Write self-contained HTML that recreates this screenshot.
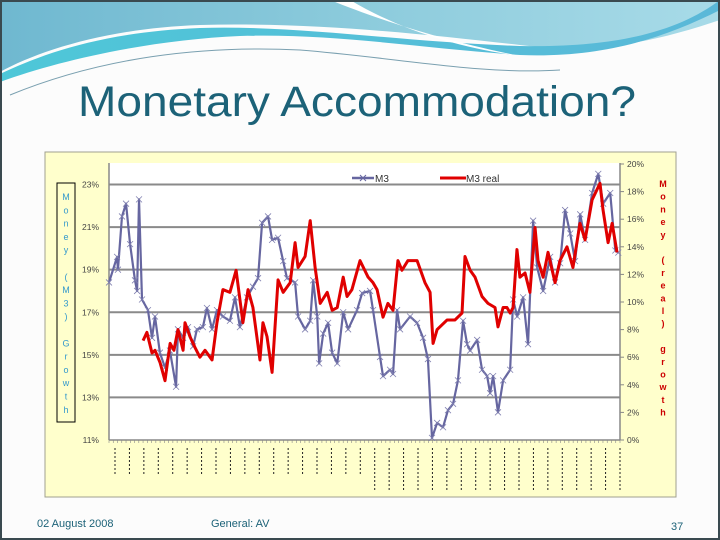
<!DOCTYPE html>
<html><head><meta charset="utf-8"><style>
html,body{margin:0;padding:0;background:#fff}
svg{display:block}
</style></head><body>
<svg id="slide" width="720" height="540" viewBox="0 0 720 540" xmlns="http://www.w3.org/2000/svg">
<defs>
<linearGradient id="hdr" x1="0" y1="0" x2="1" y2="0">
<stop offset="0" stop-color="#6fb8d0"/><stop offset="0.5" stop-color="#8ccbdc"/><stop offset="1" stop-color="#a8dbe8"/>
</linearGradient>
<linearGradient id="hdr2" x1="0" y1="0" x2="1" y2="0">
<stop offset="0" stop-color="#4ec7d8"/><stop offset="1" stop-color="#5ab8d8"/>
</linearGradient>
</defs>
<rect x="0" y="0" width="720" height="540" fill="#fcfcfc"/>
<g>
<path d="M0,0 H720 V20 C660,40 600,55 520,45 C430,35 320,22 200,25 C110,28 40,50 0,72 Z" fill="url(#hdr)"/>
<path d="M0,82 C60,60 150,40 240,36 C330,33 420,48 520,55 C600,58 660,40 720,10 V0 C680,30 620,48 520,46 C400,42 300,25 200,28 C100,32 40,55 0,74 Z" fill="url(#hdr2)"/>
<path d="M330,0 C380,20 440,40 520,56 C460,48 400,30 350,0 Z" fill="#ffffff"/>
<path d="M10,95 C100,58 200,45 300,50 C400,58 480,75 560,70" stroke="#7aa0b0" stroke-width="1" fill="none"/>
</g>
<rect x="1" y="1" width="718" height="538" fill="none" stroke="#3a4a50" stroke-width="2"/>
<text x="78" y="116" font-family="Liberation Sans, sans-serif" font-size="43" fill="#1c6278" textLength="558" lengthAdjust="spacingAndGlyphs">Monetary Accommodation?</text>

<rect x="45" y="152" width="631" height="345" fill="#ffffcc" stroke="#a0a090" stroke-width="1"/>
<rect x="109" y="163" width="511" height="277" fill="#ffffff"/>
<g id="grid"></g>
<g id="axes"></g>
<g id="xticks"></g>
<g id="series"></g>

<rect x="57" y="183" width="18" height="239" fill="none" stroke="#000" stroke-width="1"/>
<g id="ltitle" font-family="Liberation Sans, sans-serif" font-size="9" fill="#3399cc" text-anchor="middle"></g>
<g id="rtitle" font-family="Liberation Sans, sans-serif" font-size="9" font-weight="bold" fill="#cc0000" text-anchor="middle"></g>

<g font-family="Liberation Sans, sans-serif" font-size="10" fill="#333">
<g>
<line x1="352" y1="178" x2="374" y2="178" stroke="#6666a0" stroke-width="2.5"/>
<path d="M360,175 l6,6 M366,175 l-6,6" stroke="#6666a0" stroke-width="1"/>
<text x="375" y="182">M3</text></g>
<g>
<line x1="440" y1="178" x2="466" y2="178" stroke="#e00000" stroke-width="3"/>
<text x="466" y="182">M3 real</text></g>
</g>

<g font-family="Liberation Sans, sans-serif" font-size="11" fill="#1c6278">
<text x="37" y="527">02 August 2008</text>
<text x="211" y="527">General: AV</text>
<text x="671" y="530">37</text>
</g>
</svg>
<script>
const m3Periods=[0,3.8,4.2,6.1,8.0,9.9,12.2,13.2,14.1,15.5,18.3,20.2,21.6,23.9,26.3,28.6,31.5,32.4,34.8,37.1,39.5,41.3,44.1,46.0,48.4,50.7,53.5,56.8,59.2,61.5,64.8,67.6,70.0,71.9,74.7,76.6,79.4,81.8,83.6,87.4,88.8,92.1,94.5,95.9,97.8,98.7,100.6,102.9,104.8,107.2,110.0,112.3,116.5,118.9,122.6,124.0,127.3,128.7,132.0,133.4,135.3,136.7,141.4,144.7,147.5,149.8,151.7,154.1,156.9,159.2,161.6,163.9,166.3,168.2,169.6,172.9,175.2,177.6,179.0,180.4,182.7,185.1,188.4,189.8,191.7,194.5,196.8,199.2,201.1,203.9,207.2,209.5,211.9,214.2,216.6,218.9,221.3,223.6,226.9,229.8,232.1,235.4,237.8,239.2];
const m3Values=[18.4,19.6,19.0,21.5,22.1,20.2,18.5,18.0,22.3,17.6,17.1,15.8,16.8,15.1,14.4,15.2,13.5,16.2,15.8,16.3,15.4,16.2,16.3,17.2,16.2,17.1,16.8,16.6,17.7,16.3,17.7,18.2,18.6,21.2,21.5,20.4,20.5,19.4,18.6,18.4,16.8,16.2,16.6,18.5,16.8,14.6,16.0,16.5,15.1,14.6,17.0,16.2,17.1,17.9,18.0,17.1,14.9,14.0,14.3,14.1,17.1,16.2,16.8,16.5,15.8,14.8,11.1,11.8,11.6,12.4,12.7,13.8,16.6,15.5,15.2,15.7,14.3,14.0,13.2,14.0,12.3,13.8,14.3,17.6,16.8,17.7,15.5,21.3,19.1,18.0,19.6,18.4,19.3,21.8,20.7,19.4,21.6,20.4,22.6,23.5,22.1,22.6,19.9,19.8];
const realPeriods=[16.0,17.8,20.2,21.6,24.0,26.3,28.7,30.5,32.4,34.8,35.7,38.0,40.4,42.7,45.1,48.4,50.7,53.5,56.8,59.7,62.9,65.3,67.6,70.9,72.3,74.2,76.6,79.4,81.8,85.1,87.4,88.8,92.1,94.5,96.8,99.2,102.5,104.8,107.2,110.0,111.8,114.1,117.9,121.7,124.0,125.9,128.7,131.0,133.4,135.7,137.6,140.4,144.7,148.4,150.8,152.2,154.1,158.8,162.5,165.8,167.2,169.6,171.9,175.2,178.0,181.3,182.7,185.1,186.9,188.4,189.8,191.6,193.0,195.4,197.7,200.1,201.5,203.9,206.2,209.5,211.8,215.1,217.9,221.2,223.6,226.9,230.6,232.0,234.4,236.3,238.6];
const realValues=[7.2,7.8,6.3,6.5,5.6,4.3,7.0,6.5,8.0,6.5,8.5,7.5,6.7,6.0,6.5,5.8,8.5,10.9,10.7,12.3,8.5,10.9,9.6,5.8,8.5,7.5,4.9,11.6,10.7,11.4,14.3,12.5,13.3,15.9,12.5,9.9,10.7,9.4,9.6,11.8,10.4,10.9,13.0,11.8,11.4,10.9,8.9,9.9,9.4,13.0,12.3,13.0,13.0,11.4,10.7,7.0,8.0,8.7,8.7,9.2,13.3,12.3,11.8,10.4,9.9,9.6,8.2,9.6,9.6,9.2,9.6,13.8,11.8,12.1,10.7,15.4,13.0,11.8,13.6,11.4,13.0,14.0,12.5,15.7,14.5,17.4,18.6,16.7,14.3,15.7,13.6];
const leftTicks=[11,13,15,17,19,21,23];
const leftTickLabels=["11%","13%","15%","17%","19%","21%","23%"];
const rightTicks=[0,2,4,6,8,10,12,14,16,18,20];
const rightTickLabels=["0%","2%","4%","6%","8%","10%","12%","14%","16%","18%","20%"];
const xLabelCount=36;

const NS="http://www.w3.org/2000/svg";
const X0=109,X1=620,Y0=440,PMAX=240;
const xS=p=>X0+(p/PMAX)*(X1-X0);
const yL=v=>Y0-(v-11)*(Y0-184.5)/12;
const yR=v=>Y0-v*(Y0-164)/20;
function mk(tag,attrs,parent){const e=document.createElementNS(NS,tag);for(const k in attrs)e.setAttribute(k,attrs[k]);parent.appendChild(e);return e;}

const grid=document.getElementById('grid');
leftTicks.forEach((t,i)=>{
  if(i>0){const l=mk('line',{x1:X0,x2:X1,y1:yL(t),y2:yL(t),stroke:'#8a8a8a','stroke-width':2},grid);
  
  }
  const tx=mk('text',{x:99,y:yL(t)+3,'font-family':'Liberation Sans, sans-serif','font-size':8.5,fill:'#444','text-anchor':'end'},grid);
  tx.textContent=leftTickLabels[i];
  
  
});
rightTicks.forEach((t,i)=>{
  mk('line',{x1:X1,x2:X1+4,y1:yR(t),y2:yR(t),stroke:'#888'},grid);
  const tx=mk('text',{x:627,y:yR(t)+3,'font-family':'Liberation Sans, sans-serif','font-size':8.5,fill:'#444'},grid);
  tx.textContent=rightTickLabels[i];
  
  
});
const axes=document.getElementById('axes');
const la=mk('line',{x1:X0,x2:X0,y1:163,y2:Y0,stroke:'#888','stroke-width':1.5},axes);


const ra=mk('line',{x1:X1,x2:X1,y1:163,y2:Y0,stroke:'#888','stroke-width':1.5},axes);


const xa=mk('line',{x1:X0,x2:X1,y1:Y0,y2:Y0,stroke:'#888','stroke-width':1.5},axes);


for(let p=0;p<=PMAX;p+=2){mk('line',{x1:xS(p),x2:xS(p),y1:Y0,y2:Y0+3,stroke:'#888','stroke-width':0.6},axes);}

const xt=document.getElementById('xticks');
for(let i=0;i<xLabelCount;i++){
  const x=X0+6+i*(X1-X0-6)/(xLabelCount-1);
  const len=i<18?28:42;
  const g=mk('line',{x1:x,x2:x,y1:448,y2:448+len,stroke:'#222','stroke-width':1,'stroke-dasharray':'2,2'},xt);
  
  
}

const ser=document.getElementById('series');
const p1=mk('polyline',{points:m3Periods.map((p,i)=>xS(p)+','+yL(m3Values[i])).join(' '),fill:'none',stroke:'#6666a0','stroke-width':2.2,'stroke-linejoin':'round'},ser);


m3Periods.forEach((p,i)=>{const x=xS(p),y=yL(m3Values[i]);
  const m=mk('path',{d:`M${x-3},${y-3}L${x+3},${y+3}M${x+3},${y-3}L${x-3},${y+3}`,stroke:'#8080b0','stroke-width':0.8},ser);
  
  });
const p2=mk('polyline',{points:realPeriods.map((p,i)=>xS(p)+','+yR(realValues[i])).join(' '),fill:'none',stroke:'#e00000','stroke-width':3,'stroke-linejoin':'round'},ser);



const lt=document.getElementById('ltitle');
"Money (M3) Growth".split('').forEach((c,i)=>{const t=mk('text',{x:66,y:200+i*13.3},lt);t.textContent=c;});
const rt=document.getElementById('rtitle');
"Money (real) growth".split('').forEach((c,i)=>{const t=mk('text',{x:663,y:187+i*12.7},rt);t.textContent=c;});
</script>
</body></html>
